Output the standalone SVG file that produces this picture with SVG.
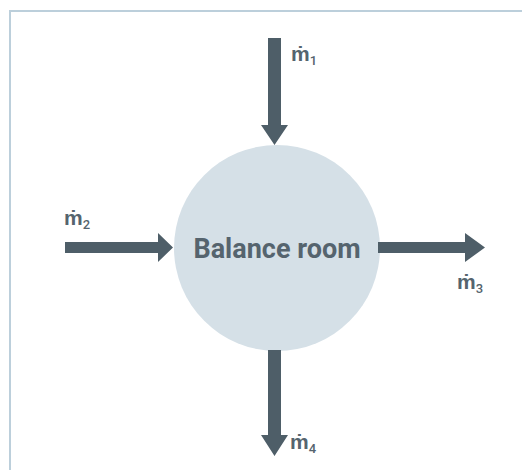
<svg xmlns="http://www.w3.org/2000/svg" width="522" height="470" viewBox="0 0 522 470">
<style>
.frame{fill:none;stroke:#bccfdb;stroke-width:2}
.arrow{fill:#4e5e68}
.lbl{font-family:Roboto,"Liberation Sans",sans-serif;font-size:21px;font-weight:bold;fill:#55646e}
.sub{font-size:13px;font-weight:500}
.title{font-family:Roboto,"Liberation Sans",sans-serif;font-size:27px;font-weight:bold;fill:#55646e}
</style>
<rect width="522" height="470" fill="#ffffff"/>
<path class="frame" d="M10,470 V11 H522"/>
<g id="balance-room">
<circle cx="277" cy="248" r="103" fill="#d5e0e7"/>
<text class="title" x="277" y="258" text-anchor="middle">Balance room</text>
</g>
<g id="connectors">
<polygon class="arrow" points="268,38 281,38 281,125 288,125 274.5,145 261,125 268,125"/>
<polygon class="arrow" points="65,242 158,242 158,233 173,247.5 158,262 158,253 65,253"/>
<polygon class="arrow" points="378,242 465,242 465,233 485,247.5 465,262 465,253 378,253"/>
<polygon class="arrow" points="268,350 281,350 281,435 288,435 274.5,456 261,435 268,435"/>
</g>
<g id="m1"><text class="lbl" x="291" y="61">ṁ<tspan class="sub" dy="4">1</tspan></text></g>
<g id="m2"><text class="lbl" x="64" y="225">ṁ<tspan class="sub" dy="4">2</tspan></text></g>
<g id="m3"><text class="lbl" x="457" y="289">ṁ<tspan class="sub" dy="4">3</tspan></text></g>
<g id="m4"><text class="lbl" x="290" y="449">ṁ<tspan class="sub" dy="4">4</tspan></text></g>
</svg>
